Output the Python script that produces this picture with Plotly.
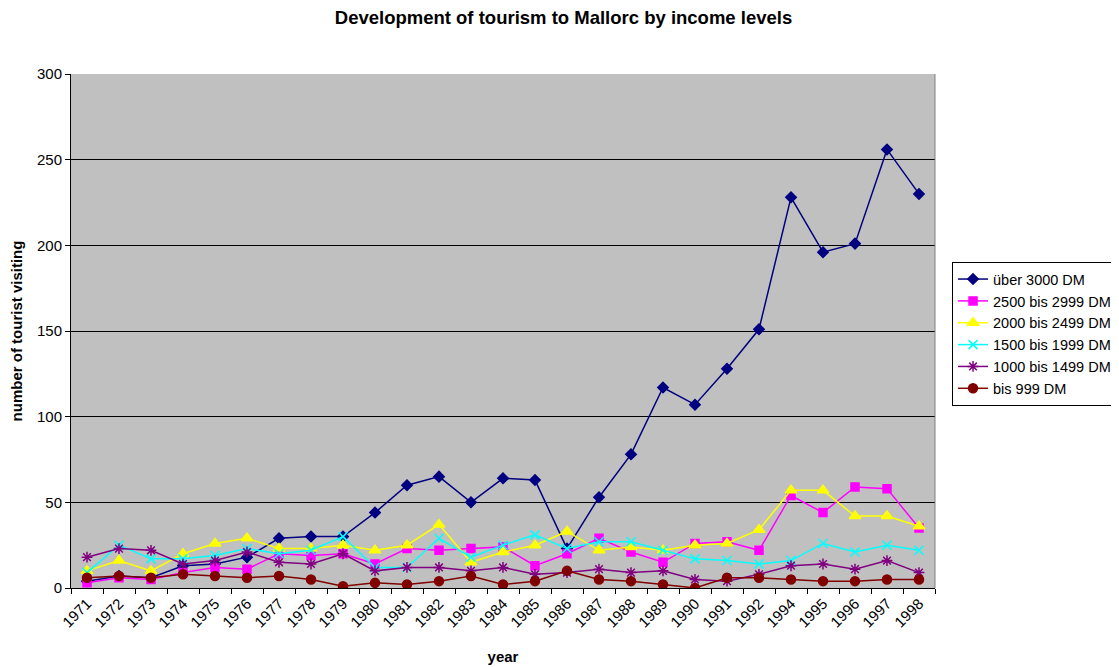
import plotly.graph_objects as go

years = ["1971","1972","1973","1974","1975","1976","1977","1978","1979","1980",
         "1981","1982","1983","1984","1985","1986","1987","1988","1989","1990",
         "1991","1992","1994","1995","1996","1997","1998"]

ueber_3000 = [4, 7, 6, 13, 14, 18, 29, 30, 30, 44, 60, 65, 50, 64, 63, 23, 53, 78, 117, 107, 128, 151, 228, 196, 201, 256, 230]
b2500_2999 = [3, 6, 5, 9, 12, 11, 20, 19, 20, 14, 23, 22, 23, 24, 13, 20, 29, 21, 15, 26, 27, 22, 54, 44, 59, 58, 35]
b2000_2499 = [10, 16, 10, 20, 26, 29, 23, 23, 25, 22, 25, 37, 15, 21, 25, 33, 22, 24, 22, 25, 26, 34, 57, 57, 42, 42, 36]
b1500_1999 = [9, 25, 17, 17, 19, 23, 20, 22, 30, 12, 12, 29, 18, 25, 31, 23, 27, 27, 22, 17, 16, 14, 16, 26, 21, 25, 22]
b1000_1499 = [18, 23, 22, 14, 16, 21, 15, 14, 20, 10, 12, 12, 10, 12, 8, 9, 11, 9, 10, 5, 4, 8, 13, 14, 11, 16, 9]
bis_999 = [6, 7, 6, 8, 7, 6, 7, 5, 1, 3, 2, 4, 7, 2, 4, 10, 5, 4, 2, 0, 6, 6, 5, 4, 4, 5, 5]

series = [
    ("über 3000 DM", ueber_3000, "#000080", "diamond", 8),
    ("2500 bis 2999 DM", b2500_2999, "#FF00FF", "square", 8),
    ("2000 bis 2499 DM", b2000_2499, "#FFFF00", "triangle-up", 10),
    ("1500 bis 1999 DM", b1500_1999, "#00FFFF", "x-thin-open", 9),
    ("1000 bis 1499 DM", b1000_1499, "#800080", "asterisk-open", 9),
    ("bis 999 DM", bis_999, "#800000", "circle", 9),
]

fig = go.Figure()
for name, vals, color, sym, size in series:
    fig.add_trace(go.Scatter(
        x=years, y=vals, name=name, mode="lines+markers",
        line=dict(color=color, width=1.5),
        marker=dict(symbol=sym, size=size, color=color,
                    line=dict(color=color, width=1.5)),
    ))

fig.add_shape(type="line", xref="paper", yref="paper", x0=1, x1=1, y0=0, y1=1,
              line=dict(color="#808080", width=1))

fig.update_layout(
    width=1111, height=659,
    paper_bgcolor="white", plot_bgcolor="#C0C0C0",
    font=dict(family="Liberation Sans, Arial, sans-serif", size=15, color="black"),
    margin=dict(l=63, r=184, t=66, b=79, autoexpand=False),
    title=dict(text="<b>Development of tourism to Mallorc by income levels</b>",
               x=0.5, xanchor="center", y=0.985, yanchor="middle",
               font=dict(size=18.5)),
    showlegend=True,
    legend=dict(x=1.0197, xanchor="left", y=0.634, yanchor="top",
                bgcolor="white", bordercolor="black", borderwidth=1,
                font=dict(size=14.5), tracegroupgap=0, itemwidth=30),
    xaxis=dict(type="category", range=[-0.5, 26.5], tickangle=-45, tickson="boundaries",
               ticks="outside", ticklen=5, tickcolor="black",
               showline=True, linecolor="black", linewidth=1, automargin=False,
               showgrid=False, tickfont=dict(size=15),
               title=dict(text="<b>year</b>", font=dict(size=15), standoff=21)),
    yaxis=dict(range=[0, 300], dtick=50, ticks="outside", ticklen=5,
               tickcolor="black", showline=True, linecolor="black", linewidth=1,
               showgrid=True, gridcolor="black", gridwidth=1, zeroline=False,
               automargin=False, tickfont=dict(size=15),
               title=dict(text="<b>number of tourist visiting</b>", font=dict(size=15),
                          standoff=10)),
)

fig.write_html("out.html")
